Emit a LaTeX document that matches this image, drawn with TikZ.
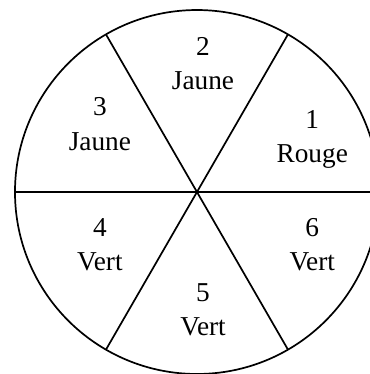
\documentclass[tikz,border=0pt]{standalone}
\usepackage{fontspec}
\setmainfont{Liberation Serif}
\tikzset{secteur/.style={align=center,font=\fontsize{12.8}{16}\selectfont,inner sep=1pt}}
\begin{document}
\begin{tikzpicture}[line width=0.8pt]
\useasboundingbox (-3.247,-3.0) rectangle (2.852,3.165);
\coordinate (O) at (0,0);
\draw (O) circle (3);
\draw (180:3) -- (0:3);
\draw (120:3) -- (300:3);
\draw (60:3) -- (240:3);
\node[secteur] (s1) at (1.9,0.86) {1\\Rouge};
\node[secteur] (s2) at (0.1,2.11) {2\\Jaune};
\node[secteur] (s3) at (-1.6,1.12) {3\\Jaune};
\node[secteur] (s4) at (-1.6,-0.87) {4\\Vert};
\node[secteur] (s5) at (0.1,-1.94) {5\\Vert};
\node[secteur] (s6) at (1.9,-0.87) {6\\Vert};
\end{tikzpicture}
\end{document}
